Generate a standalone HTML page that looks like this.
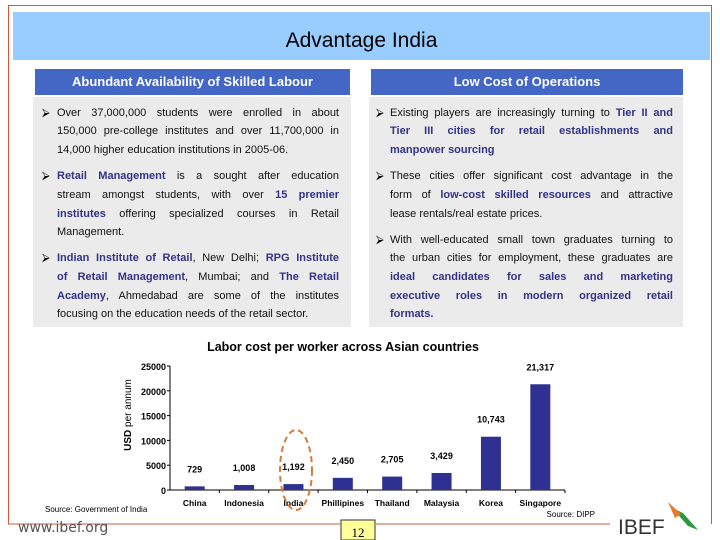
<!DOCTYPE html>
<html><head><meta charset="utf-8">
<style>
*{margin:0;padding:0;box-sizing:border-box}
body{width:720px;height:540px;background:#fff;position:relative;overflow:hidden;font-family:"Liberation Sans",Arial,sans-serif}
.abs{position:absolute}
.hdr{position:absolute;top:69px;height:26px;background:#4466c4;color:#fff;font-weight:bold;font-size:13px;text-align:center;line-height:26px}
.panel{position:absolute;top:97px;height:230px;background:#ebebeb}
.ln{position:absolute;font-size:11px;line-height:13px;text-align:justify;text-align-last:justify;white-space:nowrap;color:#111}
.ln.l{text-align-last:left}
.b{color:#333388;font-weight:bold}
.bul{position:absolute;font-size:11px;line-height:13px}
</style></head><body>
<div class="abs" style="left:8px;top:5px;width:704px;height:519px;border:1px solid #d0583a;border-bottom:none"></div>
<div class="abs" style="left:13px;top:12px;width:697px;height:48px;background:#99ccff;text-align:center;font-size:21px;line-height:58px;color:#000">Advantage India</div>
<div class="hdr" style="left:35px;width:315px">Abundant Availability of Skilled Labour</div>
<div class="hdr" style="left:371px;width:312px">Low Cost of Operations</div>
<div class="panel" style="left:33px;width:318px"></div>
<div class="panel" style="left:369px;width:314px"></div>

<div>
<div class="bul" style="left:42px;top:107px">&#x2B9A;</div>
<div class="ln" style="left:57px;top:107px;width:282px">Over 37,000,000 students were enrolled in about</div>
<div class="ln" style="left:57px;top:125px;width:282px">150,000 pre-college institutes and over 11,700,000 in</div>
<div class="ln l" style="left:57px;top:144px;width:282px">14,000 higher education institutions in 2005-06.</div>
<div class="bul" style="left:42px;top:170px">&#x2B9A;</div>
<div class="ln" style="left:57px;top:170px;width:282px"><span class="b">Retail Management</span> is a sought after education</div>
<div class="ln" style="left:57px;top:189px;width:282px">stream amongst students, with over <span class="b">15 premier</span></div>
<div class="ln" style="left:57px;top:208px;width:282px"><span class="b">institutes</span> offering specialized courses in Retail</div>
<div class="ln l" style="left:57px;top:226px;width:282px">Management.</div>
<div class="bul" style="left:42px;top:252px">&#x2B9A;</div>
<div class="ln" style="left:57px;top:252px;width:282px"><span class="b">Indian Institute of Retail</span>, New Delhi; <span class="b">RPG Institute</span></div>
<div class="ln" style="left:57px;top:271px;width:282px"><span class="b">of Retail Management</span>, Mumbai; and <span class="b">The Retail</span></div>
<div class="ln" style="left:57px;top:290px;width:282px"><span class="b">Academy</span>, Ahmedabad are some of the institutes</div>
<div class="ln l" style="left:57px;top:308px;width:282px">focusing on the education needs of the retail sector.</div>
</div>

<div>
<div class="bul" style="left:376px;top:107px">&#x2B9A;</div>
<div class="ln" style="left:390px;top:107px;width:283px">Existing players are increasingly turning to <span class="b">Tier II and</span></div>
<div class="ln" style="left:390px;top:125px;width:283px"><span class="b">Tier III cities for retail establishments and</span></div>
<div class="ln l" style="left:390px;top:144px;width:283px"><span class="b">manpower sourcing</span></div>
<div class="bul" style="left:376px;top:170px">&#x2B9A;</div>
<div class="ln" style="left:390px;top:170px;width:283px">These cities offer significant cost advantage in the</div>
<div class="ln" style="left:390px;top:189px;width:283px">form of <span class="b">low-cost skilled resources</span> and attractive</div>
<div class="ln l" style="left:390px;top:208px;width:283px">lease rentals/real estate prices.</div>
<div class="bul" style="left:376px;top:234px">&#x2B9A;</div>
<div class="ln" style="left:390px;top:234px;width:283px">With well-educated small town graduates turning to</div>
<div class="ln" style="left:390px;top:252px;width:283px">the urban cities for employment, these graduates are</div>
<div class="ln" style="left:390px;top:271px;width:283px"><span class="b">ideal candidates for sales and marketing</span></div>
<div class="ln" style="left:390px;top:290px;width:283px"><span class="b">executive roles in modern organized retail</span></div>
<div class="ln l" style="left:390px;top:308px;width:283px"><span class="b">formats.</span></div>
</div>

<svg class="abs" style="left:0;top:0" width="720" height="540">
<text x="343" y="351" text-anchor="middle" font-size="12.5" font-weight="bold" font-family="Liberation Sans,sans-serif">Labor cost per worker across Asian countries</text>
<text transform="translate(131,415) rotate(-90)" text-anchor="middle" font-size="10" font-family="Liberation Sans,sans-serif"><tspan font-weight="bold">USD</tspan> per annum</text>
<g id="axes"></g>
<g id="bars"></g>
<ellipse cx="296" cy="470" rx="16" ry="40" fill="none" stroke="#d87c3a" stroke-width="2" stroke-dasharray="6,4"/>
<text x="45" y="512" font-size="8" font-family="Liberation Sans,sans-serif">Source: Government of India</text>
<text x="595" y="517" text-anchor="end" font-size="8" font-family="Liberation Sans,sans-serif">Source: DIPP</text>
<line x1="8" y1="524" x2="340" y2="524" stroke="#d0583a" stroke-width="1"/>
<line x1="376" y1="524" x2="610" y2="524" stroke="#d0583a" stroke-width="1"/>
<text x="18" y="532" font-size="14" fill="#555" font-family="DejaVu Sans,sans-serif">www.ibef.org</text>
<rect x="341" y="520" width="34" height="20" fill="#ffff99" stroke="#333"/>
<text x="358" y="537" text-anchor="middle" font-size="13" font-family="Liberation Serif,serif">12</text>
<text x="618" y="534" font-size="21" fill="#333" font-family="Liberation Sans,sans-serif">IBEF</text>
<path d="M672 508 L688 526 L698 530 L683 513 Z" fill="#2a9a3a"/>
<path d="M668 502 L681 514 L675 518 Z" fill="#e87a2a"/>
</svg>
<script>
const categories=["China","Indonesia","India","Phillipines","Thailand","Malaysia","Korea","Singapore"];
const values=[729,1008,1192,2450,2705,3429,10743,21317];
const valueLabels=["729","1,008","1,192","2,450","2,705","3,429","10,743","21,317"];
const yTicks=[0,5000,10000,15000,20000,25000];
const NS="http://www.w3.org/2000/svg";
const x0=170,x1=565,y0=490,yTop=366,yMax=25000;
const band=(x1-x0)/categories.length;
const yS=v=>y0-(v/yMax)*(y0-yTop);
const xC=i=>x0+band*(i+0.5);
function mk(t,a,p){const e=document.createElementNS(NS,t);for(const k in a)e.setAttribute(k,a[k]);p.appendChild(e);return e;}
const ax=document.getElementById('axes'),bg=document.getElementById('bars');
mk('line',{x1:x0,y1:yTop,x2:x0,y2:y0,stroke:'#000'},ax);
mk('line',{x1:x0,y1:y0,x2:x1,y2:y0,stroke:'#000'},ax);
yTicks.forEach(t=>{
  mk('line',{x1:x0-3,y1:yS(t),x2:x0,y2:yS(t),stroke:'#000'},ax);
  const tx=mk('text',{x:x0-4,y:yS(t)+4,'text-anchor':'end','font-size':9,'font-weight':'bold','font-family':'Liberation Sans,sans-serif'},ax);
  tx.textContent=t;
  
  
});
categories.forEach((c,i)=>{
  mk('line',{x1:x0+band*(i+1),y1:y0,x2:x0+band*(i+1),y2:y0+3,stroke:'#000'},ax);
  const w=20;
  const r=mk('rect',{x:xC(i)-w/2,y:yS(values[i]),width:w,height:y0-yS(values[i]),fill:'#2e3192'},bg);
  
  
  const vl=mk('text',{x:xC(i),y:yS(values[i])-14,'text-anchor':'middle','font-size':9,'font-weight':'bold','font-family':'Liberation Sans,sans-serif'},bg);
  vl.textContent=valueLabels[i];
  
  
  const cl=mk('text',{x:xC(i),y:y0+16,'text-anchor':'middle','font-size':8.5,'font-weight':'bold','font-family':'Liberation Sans,sans-serif'},bg);
  cl.textContent=c;
  
  
});
</script>
</body></html>
